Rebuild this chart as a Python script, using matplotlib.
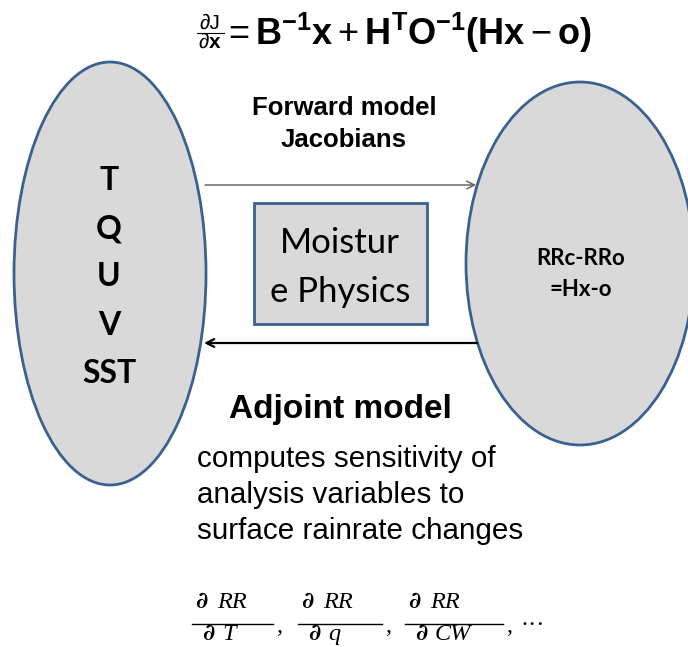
import matplotlib
matplotlib.use("Agg")
import matplotlib.pyplot as plt
from matplotlib.patches import Ellipse, Rectangle

plt.rcParams['mathtext.fontset'] = 'custom'
plt.rcParams['mathtext.rm'] = 'Liberation Sans'
plt.rcParams['mathtext.bf'] = 'Liberation Sans:bold'
plt.rcParams['mathtext.it'] = 'Liberation Sans:italic'

# ---- content ----
grad_numerator = '∂J'
grad_denominator = r'$\partial\mathbf{x}$'
cost_gradient = (r'$= \mathbf{B}^{\mathbf{-1}}\mathbf{x} + '
                 r'\mathbf{H}^{\mathbf{T}}\mathbf{O}^{\mathbf{-1}}'
                 r'\mathbf{(Hx} - \mathbf{o)}$')
left_vars = ['T', 'Q', 'U', 'V', 'SST']
right_lines = ['RRc-RRo', '=Hx-o']
box_lines = ['Moistur', 'e Physics']
forward_label = ['Forward model', 'Jacobians']
adjoint_title = 'Adjoint model'
adjoint_desc = ['computes sensitivity of', 'analysis variables to',
                'surface rainrate changes']
sens_symbol = '∂'
sens_numerator = 'RR'
sens_vars = ['T', 'q', 'CW']

FILL = '#D9D9D9'
EDGE = '#3A6190'

fig = plt.figure(figsize=(6.88, 6.47), dpi=100)
ax = fig.add_axes([0, 0, 1, 1])
ax.set_xlim(0, 688)
ax.set_ylim(647, 0)
ax.axis('off')

# equation at top
ax.text(210, 29, grad_numerator, ha='center', va='baseline', fontsize=15,
        family='Liberation Sans')
ax.plot([197, 224], [33, 33], color='black', lw=0.8)
ax.text(210, 48, grad_denominator, ha='center', va='baseline', fontsize=15)
ax.text(222, 45, cost_gradient, ha='left', va='baseline', fontsize=26)

# left ellipse
ax.add_patch(Ellipse((110, 273.5), 192, 423, facecolor=FILL, edgecolor=EDGE, lw=2.0, zorder=1))
for i, v in enumerate(left_vars):
    ax.text(109, 190 + 48.25 * i, v, ha='center', va='baseline', fontsize=23,
            family='Lato', fontweight='bold', zorder=3)

# right ellipse
ax.add_patch(Ellipse((580, 263.5), 228, 363, facecolor=FILL, edgecolor=EDGE, lw=2.0, zorder=1))
for i, t in enumerate(right_lines):
    ax.text(581, 265 + 31 * i, t, ha='center', va='baseline', fontsize=16,
            family='Lato', fontweight='bold', zorder=3)

# center box
ax.add_patch(Rectangle((254, 203), 173, 121, facecolor=FILL, edgecolor=EDGE, lw=2.0, zorder=1))
for i, t in enumerate(box_lines):
    ax.text(340, 253 + 49 * i, t, ha='center', va='baseline', fontsize=25,
            family='Lato', zorder=3)

# forward label
for i, t in enumerate(forward_label):
    ax.text(344, 115 + 32 * i, t, ha='center', va='baseline', fontsize=18.5,
            family='Liberation Sans', fontweight='bold')

# arrows
ax.annotate('', xy=(476, 185), xytext=(205, 185),
            arrowprops=dict(arrowstyle='->', lw=1.0, color='#5A5A5A',
                            shrinkA=0, shrinkB=0, mutation_scale=14))
ax.annotate('', xy=(204, 343), xytext=(477, 343),
            arrowprops=dict(arrowstyle='->', lw=1.6, color='black',
                            shrinkA=0, shrinkB=0, mutation_scale=14))

# adjoint text
ax.text(340, 418, adjoint_title, ha='center', va='baseline', fontsize=24,
        family='Liberation Sans', fontweight='bold')
for i, t in enumerate(adjoint_desc):
    ax.text(197, 467 + 36 * i, t, ha='left', va='baseline', fontsize=21.3,
            family='Liberation Sans')

# sensitivity fractions (layout: bar extents in pixels)
bar_x0 = [192, 298, 405]
bar_x1 = [273, 382, 503]
bar_y = 624
fs = 17.5
for v, x0, x1 in zip(sens_vars, bar_x0, bar_x1):
    ax.plot([x0, x1], [bar_y, bar_y], color='black', lw=1.0)
    ax.text(x0 + 3, 608, sens_symbol, ha='left', va='baseline', fontsize=fs - 1,
            family='DejaVu Serif', fontweight='bold')
    ax.text(x0 + 25, 608, sens_numerator, ha='left', va='baseline', fontsize=fs,
            family='Liberation Serif', style='italic')
    ax.text(x0 + 10, 640, sens_symbol, ha='left', va='baseline', fontsize=fs - 1,
            family='DejaVu Serif', fontweight='bold')
    ax.text(x0 + 30, 640, v, ha='left', va='baseline', fontsize=fs,
            family='Liberation Serif', style='italic')
    ax.text(x1 + 3, 632, ',', ha='left', va='baseline', fontsize=fs,
            family='Liberation Serif')
ax.text(bar_x1[-1] + 17, 631, '···', ha='left', va='baseline', fontsize=fs,
        family='Liberation Serif')

fig.savefig('out.png', dpi=100)
